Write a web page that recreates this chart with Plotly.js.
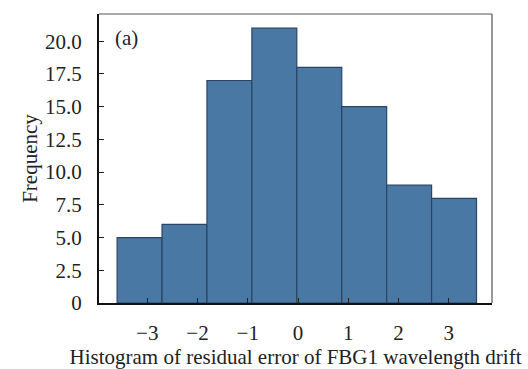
<!DOCTYPE html>
<html>
<head>
<meta charset="utf-8">
<script src="https://cdn.plot.ly/plotly-3.0.1.min.js"></script>
<style>html,body{margin:0;padding:0;background:#fff;}#chart{width:528px;height:369px;}</style>
</head>
<body>
<div id="chart"></div>
<script>
// Data
var binEdges = [-3.60, -2.706, -1.812, -0.918, -0.024, 0.870, 1.764, 2.658, 3.552];
var counts = [5, 6, 17, 21, 18, 15, 9, 8];
var xTickVals = [-3, -2, -1, 0, 1, 2, 3];
var yTickVals = [0, 2.5, 5, 7.5, 10, 12.5, 15, 17.5, 20];
var yTickText = ["0", "2.5", "5.0", "7.5", "10.0", "12.5", "15.0", "17.5", "20.0"];

var centers = [], widths = [];
for (var i = 0; i < counts.length; i++) {
  centers.push((binEdges[i] + binEdges[i + 1]) / 2);
  widths.push(binEdges[i + 1] - binEdges[i]);
}

var font = {family: "Liberation Serif, Times New Roman, serif", size: 21, color: "#222"};

var trace = {
  type: "bar",
  x: centers,
  y: counts,
  width: widths,
  marker: {color: "#4a78a4", line: {color: "#2a4563", width: 1.2}},
  hoverinfo: "skip"
};

var layout = {
  width: 528, height: 369,
  margin: {l: 99, r: 36, t: 14, b: 66},
  paper_bgcolor: "#fff", plot_bgcolor: "#fff",
  font: font,
  showlegend: false,
  bargap: 0,
  xaxis: {
    range: [-3.96, 3.86],
    tickvals: xTickVals,
    ticks: "inside", ticklen: 5, tickwidth: 1, tickcolor: "#222",
    showgrid: false, zeroline: false,
    showline: true, linecolor: "#111", linewidth: 2,
    tickfont: font,
    ticklabelstandoff: 10,
    title: {text: "Histogram of residual error of FBG1 wavelength drift", font: font, standoff: 5}
  },
  yaxis: {
    range: [0, 22.08],
    tickvals: yTickVals, ticktext: yTickText,
    ticks: "inside", ticklen: 5, tickwidth: 1, tickcolor: "#222",
    showgrid: false, zeroline: false,
    showline: true, linecolor: "#111", linewidth: 2,
    tickfont: font,
    ticklabelstandoff: 11,
    title: {text: "Frequency", font: font, standoff: 2}
  },
  shapes: [
    {type: "line", xref: "paper", yref: "paper", x0: 0, x1: 1, y0: 1, y1: 1, line: {color: "#555", width: 1.2}},
    {type: "line", xref: "paper", yref: "paper", x0: 1, x1: 1, y0: 0, y1: 1, line: {color: "#555", width: 1.2}}
  ],
  annotations: [
    {xref: "paper", yref: "paper", x: 0.035, y: 0.965, xanchor: "left", yanchor: "top", text: "(a)", showarrow: false, font: font}
  ]
};

Plotly.newPlot("chart", [trace], layout, {displayModeBar: false, staticPlot: true});
</script>
</body>
</html>
